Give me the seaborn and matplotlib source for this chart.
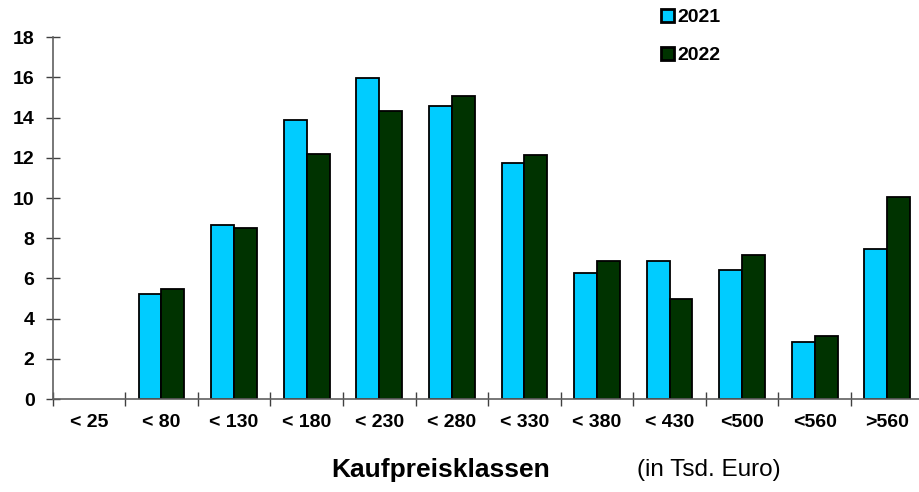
import matplotlib
matplotlib.use("Agg")
import matplotlib.pyplot as plt
from matplotlib.patches import Patch
import seaborn as sns
import pandas as pd
import numpy as np

categories = ["< 25", "< 80", "< 130", "< 180", "< 230", "< 280", "< 330",
              "< 380", "< 430", "<500", "<560", ">560"]
values_2021 = [0, 5.22, 8.64, 13.9, 15.95, 14.57, 11.75, 6.27, 6.88, 6.43, 2.84, 7.48]
values_2022 = [0, 5.45, 8.51, 12.21, 14.34, 15.1, 12.13, 6.88, 4.99, 7.18, 3.16, 10.07]
years = ["2021", "2022"]
colors = ["#00CCFF", "#003300"]
yticks = [0, 2, 4, 6, 8, 10, 12, 14, 16, 18]

df = pd.DataFrame({
    "Klasse": categories * 2,
    "Wert": values_2021 + values_2022,
    "Jahr": [years[0]] * len(categories) + [years[1]] * len(categories),
})

sns.set_style("white")
plt.rcParams['font.family'] = ['Liberation Sans', 'DejaVu Sans']
plt.rcParams['text.color'] = 'black'
plt.rcParams['xtick.color'] = 'black'
plt.rcParams['ytick.color'] = 'black'

fig = plt.figure(figsize=(9.19, 4.92), dpi=100)
left = 52.6 / 919
width = 871 / 919
bottom = 1 - 399 / 492
top = 1 - 37.3 / 492
ax = fig.add_axes([left, bottom, width, top - bottom])

sns.barplot(data=df, x="Klasse", y="Wert", hue="Jahr", order=categories,
            hue_order=years, palette=colors, width=0.63,
            edgecolor="black", linewidth=1.3, saturation=1, legend=False, ax=ax)

for p in ax.patches:
    if p.get_height() == 0:
        p.set_visible(False)

ax.set_xlim(-0.5, len(categories) - 0.5)
ax.set_ylim(0, 18)
ax.set_yticks(yticks)
ax.set_yticklabels([str(t) for t in yticks], fontweight="bold", fontsize=14)
ax.set_xticks(range(len(categories)))
ax.set_xticklabels(categories, fontweight="bold", fontsize=14)
ax.set_xticks(np.arange(-0.5, len(categories) - 0.5, 1), minor=True)
ax.tick_params(axis="x", which="major", bottom=True, length=0, pad=11)
ax.tick_params(axis="x", which="minor", bottom=True, length=10, direction="inout",
               color="#404040", width=1)
ax.tick_params(axis="y", left=True, length=10, direction="inout", color="#404040",
               width=1, pad=8)

for s in ["top", "right"]:
    ax.spines[s].set_visible(False)
for s in ["left", "bottom"]:
    ax.spines[s].set_color("#606060")
    ax.spines[s].set_linewidth(1.2)

ax.set_xlabel("")
ax.set_ylabel("")

handles = [Patch(facecolor=c, edgecolor="black", linewidth=2) for c in colors]
fig.legend(handles, years, loc="upper left", bbox_to_anchor=(643 / 919, 1.018),
           frameon=False, handlelength=0.7, handleheight=0.7, handletextpad=0.15,
           labelspacing=1.05, prop={"weight": "bold", "size": 14})

fig.text(441 / 919, 1 - 470 / 492, "Kaufpreisklassen", ha="center", va="center",
         fontsize=19, fontweight="bold")
fig.text(637 / 919, 1 - 470 / 492, "(in Tsd. Euro)", ha="left", va="center",
         fontsize=17.5)

fig.savefig("out.png", dpi=100)
